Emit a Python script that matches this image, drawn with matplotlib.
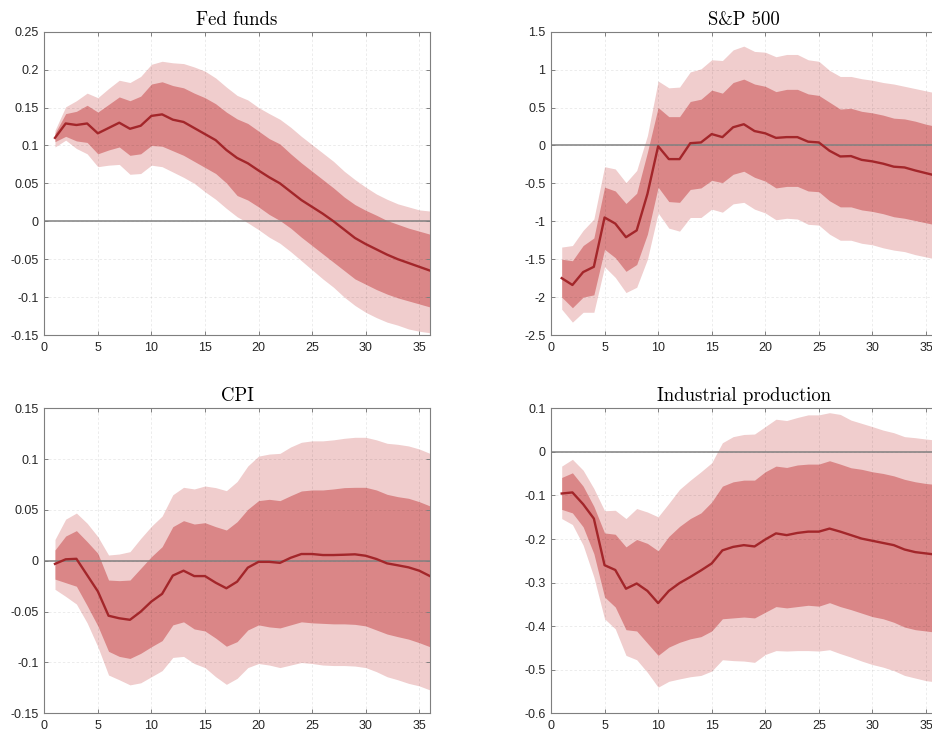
import matplotlib
matplotlib.use("Agg")
import matplotlib.pyplot as plt
import numpy as np

plt.rcParams['font.family'] = ['Liberation Sans', 'DejaVu Sans']
plt.rcParams['mathtext.fontset'] = 'cm'

horizon = list(range(1, 37))

titles = ['Fed funds', 'S&P 500', 'CPI', 'Industrial production']

# ---- Fed funds ----
ff_med = [0.110, 0.129, 0.127, 0.129, 0.116, 0.123, 0.130, 0.122, 0.126, 0.139, 0.141, 0.134,
          0.131, 0.123, 0.115, 0.107, 0.094, 0.0835, 0.0765, 0.067, 0.058, 0.050, 0.039, 0.028,
          0.019, 0.010, 0.000, -0.011, -0.022, -0.030, -0.037, -0.044, -0.050, -0.055, -0.060, -0.065]
ff_hi68 = [0.116, 0.142, 0.145, 0.153, 0.144, 0.154, 0.164, 0.159, 0.165, 0.181, 0.184, 0.179,
           0.176, 0.169, 0.163, 0.155, 0.144, 0.135, 0.129, 0.119, 0.109, 0.102, 0.089, 0.077,
           0.066, 0.055, 0.044, 0.032, 0.022, 0.0145, 0.008, 0.001, -0.004, -0.009, -0.013, -0.017]
ff_lo68 = [0.105, 0.112, 0.106, 0.104, 0.089, 0.094, 0.098, 0.087, 0.089, 0.100, 0.099, 0.093,
           0.087, 0.079, 0.071, 0.063, 0.0505, 0.034, 0.028, 0.019, 0.009, 0.001, -0.009, -0.021,
           -0.032, -0.043, -0.054, -0.065, -0.076, -0.083, -0.090, -0.096, -0.101, -0.105, -0.109, -0.113]
ff_hi90 = [0.120, 0.151, 0.159, 0.169, 0.163, 0.175, 0.186, 0.183, 0.191, 0.207, 0.211, 0.209,
           0.208, 0.2035, 0.198, 0.189, 0.177, 0.166, 0.160, 0.150, 0.142, 0.1345, 0.124, 0.112,
           0.101, 0.090, 0.079, 0.066, 0.055, 0.045, 0.036, 0.029, 0.023, 0.019, 0.015, 0.0135]
ff_lo90 = [0.098, 0.107, 0.096, 0.089, 0.072, 0.074, 0.075, 0.062, 0.063, 0.074, 0.072, 0.065,
           0.058, 0.050, 0.039, 0.029, 0.017, 0.006, -0.002, -0.011, -0.021, -0.029, -0.040, -0.052,
           -0.064, -0.076, -0.087, -0.100, -0.111, -0.120, -0.127, -0.133, -0.137, -0.142, -0.145, -0.147]

# ---- S&P 500 ----
sp_med = [-1.75, -1.84, -1.67, -1.60, -0.95, -1.03, -1.21, -1.12, -0.64, -0.01, -0.18, -0.18,
          0.03, 0.04, 0.15, 0.11, 0.24, 0.28, 0.19, 0.16, 0.10, 0.11, 0.11, 0.05,
          0.04, -0.07, -0.145, -0.14, -0.19, -0.21, -0.24, -0.28, -0.29, -0.33, -0.365, -0.40]
sp_hi68 = [-1.50, -1.52, -1.32, -1.22, -0.55, -0.60, -0.765, -0.63, -0.09, 0.50, 0.38, 0.38,
           0.58, 0.61, 0.73, 0.69, 0.83, 0.875, 0.81, 0.78, 0.71, 0.74, 0.74, 0.68,
           0.66, 0.57, 0.48, 0.49, 0.45, 0.43, 0.40, 0.36, 0.35, 0.32, 0.28, 0.25]
sp_lo68 = [-2.00, -2.14, -2.00, -1.97, -1.37, -1.48, -1.66, -1.57, -1.17, -0.55, -0.74, -0.75,
           -0.58, -0.56, -0.46, -0.49, -0.38, -0.34, -0.42, -0.47, -0.56, -0.54, -0.54, -0.60,
           -0.61, -0.73, -0.81, -0.81, -0.85, -0.87, -0.90, -0.94, -0.96, -0.99, -1.02, -1.05]
sp_hi90 = [-1.34, -1.32, -1.12, -0.97, -0.28, -0.31, -0.49, -0.33, 0.13, 0.85, 0.76, 0.77,
           0.97, 1.01, 1.13, 1.12, 1.26, 1.31, 1.24, 1.23, 1.17, 1.20, 1.20, 1.13,
           1.11, 0.99, 0.91, 0.91, 0.88, 0.86, 0.83, 0.81, 0.78, 0.75, 0.72, 0.69]
sp_lo90 = [-2.16, -2.33, -2.20, -2.20, -1.60, -1.74, -1.94, -1.87, -1.50, -0.89, -1.09, -1.13,
           -0.95, -0.95, -0.84, -0.88, -0.77, -0.75, -0.84, -0.89, -0.98, -0.96, -0.97, -1.04,
           -1.05, -1.17, -1.25, -1.25, -1.29, -1.31, -1.35, -1.38, -1.40, -1.44, -1.47, -1.50]

# ---- CPI ----
cpi_med = [-0.003, 0.0015, 0.002, -0.014, -0.030, -0.054, -0.0565, -0.058, -0.050, -0.040, -0.0325, -0.0145,
           -0.0097, -0.015, -0.015, -0.0215, -0.027, -0.0205, -0.0067, -0.001, -0.001, -0.002, 0.003, 0.0067,
           0.0067, 0.0057, 0.0057, 0.006, 0.0064, 0.005, 0.0018, -0.0025, -0.0044, -0.0064, -0.0097, -0.015]
cpi_hi68 = [0.0107, 0.0244, 0.0297, 0.0189, 0.0074, -0.0189, -0.0195, -0.0189, -0.0074, 0.0041, 0.0139, 0.0336,
            0.0395, 0.0362, 0.0375, 0.0336, 0.0303, 0.0385, 0.0507, 0.0592, 0.0605, 0.0592, 0.0641, 0.0687,
            0.0697, 0.0697, 0.0707, 0.072, 0.0723, 0.0723, 0.0697, 0.0654, 0.0631, 0.0615, 0.0582, 0.054]
cpi_lo68 = [-0.018, -0.0215, -0.025, -0.044, -0.064, -0.089, -0.094, -0.096, -0.091, -0.0845, -0.0785, -0.063,
            -0.060, -0.067, -0.069, -0.076, -0.084, -0.0795, -0.068, -0.063, -0.065, -0.066, -0.063, -0.060,
            -0.061, -0.0615, -0.062, -0.062, -0.0625, -0.064, -0.068, -0.072, -0.0746, -0.077, -0.0805, -0.0845]
cpi_hi90 = [0.021, 0.041, 0.047, 0.037, 0.0238, 0.0057, 0.0067, 0.009, 0.022, 0.034, 0.044, 0.065,
            0.0723, 0.0707, 0.0736, 0.072, 0.069, 0.078, 0.0933, 0.103, 0.105, 0.1057, 0.112, 0.1166,
            0.118, 0.118, 0.119, 0.1205, 0.1215, 0.1215, 0.119, 0.1156, 0.1146, 0.113, 0.110, 0.1057]
cpi_lo90 = [-0.028, -0.035, -0.0425, -0.061, -0.0845, -0.1123, -0.117, -0.122, -0.120, -0.114, -0.108, -0.095,
            -0.094, -0.101, -0.105, -0.114, -0.1215, -0.1156, -0.105, -0.101, -0.1025, -0.105, -0.1025, -0.100,
            -0.101, -0.1025, -0.103, -0.103, -0.1035, -0.105, -0.109, -0.114, -0.117, -0.1205, -0.123, -0.127]

# ---- Industrial production ----
ip_med = [-0.0955, -0.093, -0.120, -0.153, -0.260, -0.271, -0.314, -0.302, -0.319, -0.347, -0.319, -0.301,
          -0.287, -0.272, -0.256, -0.226, -0.218, -0.214, -0.217, -0.201, -0.187, -0.191, -0.186, -0.183,
          -0.183, -0.176, -0.183, -0.191, -0.199, -0.204, -0.209, -0.214, -0.224, -0.230, -0.233, -0.236]
ip_hi68 = [-0.0587, -0.048, -0.0786, -0.125, -0.186, -0.189, -0.218, -0.201, -0.210, -0.227, -0.194, -0.171,
           -0.153, -0.140, -0.115, -0.0786, -0.0687, -0.0648, -0.0648, -0.0456, -0.0326, -0.0357, -0.030, -0.028,
           -0.028, -0.0203, -0.028, -0.0364, -0.040, -0.0456, -0.0495, -0.055, -0.063, -0.0686, -0.0725, -0.075]
ip_lo68 = [-0.132, -0.140, -0.172, -0.2335, -0.333, -0.356, -0.408, -0.411, -0.439, -0.467, -0.448, -0.437,
           -0.429, -0.424, -0.411, -0.383, -0.381, -0.379, -0.381, -0.368, -0.355, -0.358, -0.355, -0.352,
           -0.354, -0.346, -0.355, -0.362, -0.370, -0.378, -0.383, -0.391, -0.402, -0.408, -0.411, -0.414]
ip_hi90 = [-0.0326, -0.017, -0.042, -0.084, -0.135, -0.134, -0.153, -0.130, -0.138, -0.149, -0.118, -0.086,
           -0.065, -0.0456, -0.025, 0.021, 0.035, 0.040, 0.041, 0.058, 0.075, 0.072, 0.079, 0.085,
           0.085, 0.090, 0.086, 0.073, 0.0655, 0.058, 0.050, 0.044, 0.035, 0.0326, 0.0295, 0.027]
ip_lo90 = [-0.153, -0.1667, -0.214, -0.287, -0.383, -0.406, -0.467, -0.477, -0.506, -0.540, -0.5265, -0.521,
           -0.516, -0.513, -0.503, -0.477, -0.479, -0.480, -0.483, -0.465, -0.456, -0.457, -0.456, -0.456,
           -0.457, -0.454, -0.463, -0.471, -0.480, -0.488, -0.494, -0.502, -0.513, -0.519, -0.525, -0.528]

yticks_ff = [-0.15, -0.1, -0.05, 0, 0.05, 0.1, 0.15, 0.2, 0.25]
yticks_sp = [-2.5, -2, -1.5, -1, -0.5, 0, 0.5, 1, 1.5]
yticks_cpi = [-0.15, -0.1, -0.05, 0, 0.05, 0.1, 0.15]
yticks_ip = [-0.6, -0.5, -0.4, -0.3, -0.2, -0.1, 0, 0.1]
xticks = [0, 5, 10, 15, 20, 25, 30, 35]

panels = [
    (ff_med, ff_lo68, ff_hi68, ff_lo90, ff_hi90, yticks_ff),
    (sp_med, sp_lo68, sp_hi68, sp_lo90, sp_hi90, yticks_sp),
    (cpi_med, cpi_lo68, cpi_hi68, cpi_lo90, cpi_hi90, yticks_cpi),
    (ip_med, ip_lo68, ip_hi68, ip_lo90, ip_hi90, yticks_ip),
]

light = '#F0CDCD'
dark = '#DA8687'
line_c = '#A3262A'
spine_c = '#7F7F7F'
text_c = '#262626'

fig = plt.figure(figsize=(9.32, 7.36), dpi=100)
positions = [
    [0.0475, 0.5448, 0.4138, 0.4121],
    [0.5912, 0.5448, 0.4138, 0.4121],
    [0.0475, 0.0308, 0.4138, 0.4144],
    [0.5912, 0.0308, 0.4138, 0.4144],
]

def fmt(v):
    return '%g' % v

for i, (med, lo68, hi68, lo90, hi90, yt) in enumerate(panels):
    ax = fig.add_axes(positions[i])
    ax.fill_between(horizon, lo90, hi90, color=light, linewidth=0, zorder=1)
    ax.fill_between(horizon, lo68, hi68, color=dark, linewidth=0, zorder=1.2)
    ax.axhline(0, color='#808080', linewidth=1.1, zorder=3)
    ax.plot(horizon, med, color=line_c, linewidth=1.7, zorder=4)
    ax.set_xlim(0, 36)
    ax.set_ylim(yt[0], yt[-1])
    ax.set_xticks(xticks)
    ax.set_xticklabels([str(t) for t in xticks])
    ax.set_yticks(yt)
    ax.set_yticklabels([fmt(t) for t in yt])
    ax.set_axisbelow(False)
    ax.grid(True, color='black', alpha=0.09, linestyle=(0, (3, 2.5)), linewidth=0.6)
    ax.tick_params(direction='in', length=3, width=0.7, colors=spine_c, labelcolor=text_c,
                   labelsize=9, top=True, right=True, pad=4)
    ax.tick_params(axis='x', pad=5)
    for sp in ax.spines.values():
        sp.set_color(spine_c)
        sp.set_linewidth(0.8)
        sp.set_zorder(6)
    ax.set_title(titles[i], fontsize=13.5, color='#000000', pad=5,
                 family=['cmr10', 'DejaVu Serif'])

fig.savefig('out.png', dpi=100)
